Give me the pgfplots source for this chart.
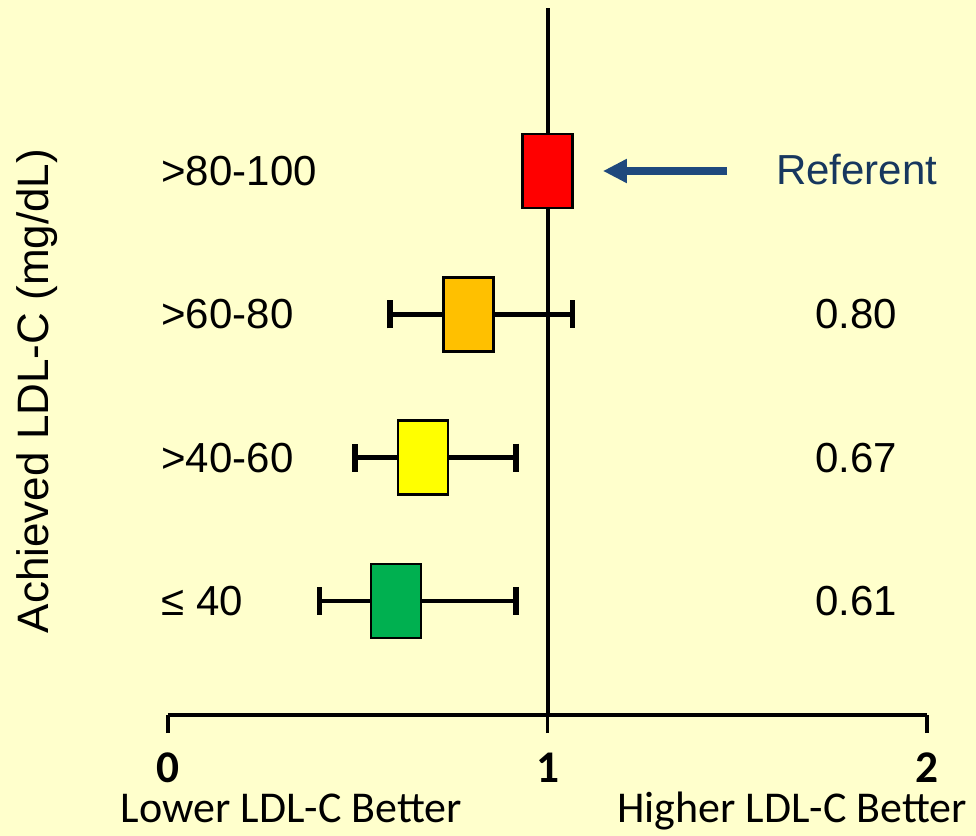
\documentclass[border=0pt]{standalone}
\usepackage{pgfplots}
\pgfplotsset{compat=1.18}
\usepackage{fontspec}
\setmainfont{Liberation Sans}
\newfontfamily\carlito{Carlito}
\usetikzlibrary{backgrounds,arrows.meta}
\definecolor{bgc}{HTML}{FFFFCC}
\definecolor{cRed}{HTML}{FF0000}
\definecolor{cOrange}{HTML}{FFC000}
\definecolor{cYellow}{HTML}{FFFF00}
\definecolor{cGreen}{HTML}{00B050}
\definecolor{arrowblue}{HTML}{1F497D}
\definecolor{refnavy}{HTML}{17375E}
\pgfdeclareplotmark{hrbox}{%
  \pgfpathrectangle{\pgfqpoint{-18.75pt}{-27.75pt}}{\pgfqpoint{37.5pt}{55.5pt}}%
  \pgfusepathqfillstroke}
\newcommand\labfont{\fontsize{31.5}{36}\selectfont}
\newcommand\calfont{\carlito\fontsize{33}{38}\selectfont}
\begin{document}
\begin{tikzpicture}
\begin{axis}[
  scale only axis,
  width=569.25pt, height=536.25pt,
  xmin=0, xmax=2, ymin=0.2046, ymax=5.1931,
  axis x line*=bottom, axis y line=none,
  xtick={0,1,2}, xticklabels={0,1,2}, ytick=\empty,
  tick align=outside,
  major tick length=13.5pt,
  every tick/.style={black, line width=2.5pt},
  axis line style={black, line width=2.5pt},
  xticklabel style={font=\carlito\bfseries\fontsize{34}{38}\selectfont, yshift=-11.5pt},
  clip=false,
]
\coordinate (bl) at (axis cs:-0.44269,-0.6396);
\coordinate (tr) at (axis cs:2.12912,5.1931);
% reference line at 1
\addplot[black, line width=3pt, forget plot] coordinates {(1,0.2046) (1,5.137)};
% confidence intervals
\addplot[black, only marks, mark=none,
  error bars/.cd, x dir=both, x explicit, error mark=|,
  error bar style={line width=3.7pt, black},
  error mark options={black, line width=3.9pt, mark size=10.5pt}]
  coordinates {
   (0.792,3) += (0.273,0) -= (0.207,0)
   (0.672,2) += (0.245,0) -= (0.179,0)
   (0.601,1) += (0.316,0) -= (0.201,0)
  };
% boxes
\addplot[only marks, mark=hrbox, mark options={fill=cRed, draw=black, line width=2pt}] coordinates {(1,4)};
\addplot[only marks, mark=hrbox, mark options={fill=cOrange, draw=black, line width=2pt}] coordinates {(0.792,3)};
\addplot[only marks, mark=hrbox, mark options={fill=cYellow, draw=black, line width=2pt}] coordinates {(0.672,2)};
\addplot[only marks, mark=hrbox, mark options={fill=cGreen, draw=black, line width=2pt}] coordinates {(0.601,1)};
% row labels
\node[anchor=west, inner sep=0, font=\labfont] at (axis cs:-0.018,4) {>80-100};
\node[anchor=west, inner sep=0, font=\labfont] at (axis cs:-0.018,3) {>60-80};
\node[anchor=west, inner sep=0, font=\labfont] at (axis cs:-0.018,2) {>40-60};
\node[anchor=west, inner sep=0, font=\labfont] at (axis cs:-0.018,1) {≤ 40};
% values
\node[anchor=east, inner sep=0, font=\labfont] at (axis cs:1.921,3) {0.80};
\node[anchor=east, inner sep=0, font=\labfont] at (axis cs:1.921,2) {0.67};
\node[anchor=east, inner sep=0, font=\labfont] at (axis cs:1.921,1) {0.61};
\node[anchor=west, inner sep=0, font=\labfont, text=refnavy] at (axis cs:1.602,4.01) {Referent};
\draw[arrowblue, line width=6pt, -{Triangle[length=18pt,width=17pt]}] (axis cs:1.473,4.0) -- (axis cs:1.146,4.0);
% y label
\node[rotate=90, inner sep=0, font=\fontsize{33}{38}\selectfont] at (axis cs:-0.345,2.465) {Achieved LDL-C (mg/dL)};
% bottom captions
\node[anchor=base, inner sep=0, font=\calfont] at (axis cs:0.325,-0.548) {Lower LDL-C Better};
\node[anchor=base, inner sep=0, font=\calfont] at (axis cs:1.644,-0.548) {Higher LDL-C Better};
\end{axis}
\begin{pgfonlayer}{background}
\fill[bgc] (bl) rectangle (tr);
\end{pgfonlayer}
\pgfresetboundingbox
\useasboundingbox (bl) rectangle (tr);
\end{tikzpicture}
\end{document}
